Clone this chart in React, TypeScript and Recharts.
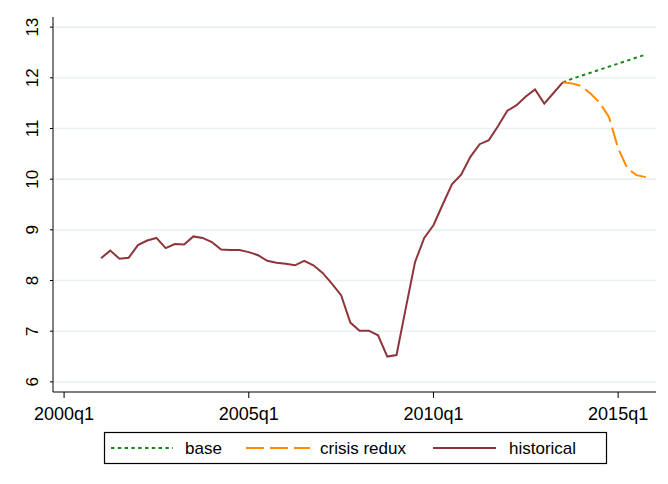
import React from 'react';
import { LineChart, Line, XAxis, YAxis, CartesianGrid } from 'recharts';

const firstHistQuarter = 4; // 2001q1, counted from 2000q1
const historical = [
  8.44, 8.59, 8.43, 8.45, 8.70, 8.79, 8.84, 8.64, 8.72, 8.71,
  8.87, 8.84, 8.76, 8.61, 8.60, 8.60, 8.56, 8.50, 8.39, 8.35,
  8.33, 8.30, 8.39, 8.30, 8.15, 7.94, 7.71, 7.17, 7.01, 7.01,
  6.92, 6.50, 6.53, 7.45, 8.36, 8.84, 9.09, 9.50, 9.90, 10.09,
  10.44, 10.69, 10.77, 11.05, 11.35, 11.46, 11.63, 11.77, 11.49, 11.70,
  11.91,
];
const firstForecastQuarter = 54; // 2013q3
const base = [11.91, 11.98, 12.04, 12.10, 12.16, 12.22, 12.28, 12.34, 12.40, 12.46];
const crisisRedux = [11.91, 11.89, 11.84, 11.69, 11.51, 11.23, 10.61, 10.21, 10.08, 10.04];

const xTickValues = [0, 20, 40, 60];
const xTickLabels = ['2000q1', '2005q1', '2010q1', '2015q1'];
const yTicks = [6, 7, 8, 9, 10, 11, 12, 13];

const seriesNames = { base: 'base', crisis: 'crisis redux', historical: 'historical' };
const colors = { base: '#15891b', crisis: '#ff8c00', historical: '#8e353b' };

type Row = { t: number; historical?: number; base?: number; crisis?: number };
const rowsMap: Record<number, Row> = {};
historical.forEach((v, i) => {
  const t = firstHistQuarter + i;
  rowsMap[t] = { ...(rowsMap[t] || { t }), historical: v };
});
base.forEach((v, i) => {
  const t = firstForecastQuarter + i;
  rowsMap[t] = { ...(rowsMap[t] || { t }), base: v };
});
crisisRedux.forEach((v, i) => {
  const t = firstForecastQuarter + i;
  rowsMap[t] = { ...(rowsMap[t] || { t }), crisis: v };
});
const data: Row[] = Object.values(rowsMap).sort((a, b) => a.t - b.t);

const FONT = '"Liberation Sans", Arial, Helvetica, sans-serif';

const XTick = (props: any) => {
  const { x, y, payload } = props;
  const idx = xTickValues.indexOf(payload.value);
  return (
    <text x={x} y={y + 20} textAnchor="middle" fontFamily={FONT} fontSize={18} fill="#000">
      {xTickLabels[idx]}
    </text>
  );
};

const YTick = (props: any) => {
  const { y, payload } = props;
  const bx = 38.5;
  return (
    <text
      x={bx}
      y={y}
      transform={`rotate(-90, ${bx}, ${y})`}
      textAnchor="middle"
      fontFamily={FONT}
      fontSize={17}
      fill="#000"
    >
      {payload.value}
    </text>
  );
};

const LegendBox = () => {
  const cy = 448;
  return (
    <svg width={668} height={484} style={{ position: 'absolute', left: 0, top: 0, pointerEvents: 'none' }}>
      <rect x={104.5} y={432.5} width={502} height={31} fill="#fff" stroke="#000" strokeWidth={1.2} />
      <line x1={111} x2={173} y1={cy} y2={cy} stroke={colors.base} strokeWidth={2} strokeDasharray="3.4 3.4" />
      <text x={185} y={cy + 6} fontFamily={FONT} fontSize={17} fill="#000">{seriesNames.base}</text>
      <line x1={246} x2={310} y1={cy} y2={cy} stroke={colors.crisis} strokeWidth={2} strokeDasharray="18 6" />
      <text x={320} y={cy + 6} fontFamily={FONT} fontSize={17} fill="#000">{seriesNames.crisis}</text>
      <line x1={433} x2={496} y1={cy} y2={cy} stroke={colors.historical} strokeWidth={2} />
      <text x={509} y={cy + 6} fontFamily={FONT} fontSize={17} fill="#000">{seriesNames.historical}</text>
    </svg>
  );
};

export default function App() {
  return (
    <div style={{ position: 'absolute', left: 0, top: 0, width: 668, height: 484, background: '#fff' }}>
      <LineChart
        width={668}
        height={484}
        data={data}
        margin={{ top: 17, right: 12, bottom: 62, left: 0 }}
      >
        <CartesianGrid
          horizontal
          vertical={false}
          stroke="#e9f1f3"
          strokeWidth={1.6}
          horizontalValues={yTicks}
        />
        <XAxis
          dataKey="t"
          type="number"
          domain={[-1.2, 64.1]}
          ticks={xTickValues}
          tick={<XTick />}
          tickSize={6}
          height={30}
          stroke="#000"
          allowDataOverflow
        />
        <YAxis
          type="number"
          domain={[5.8, 13.2]}
          ticks={yTicks}
          tick={<YTick />}
          tickSize={3}
          width={53}
          stroke="#000"
          allowDataOverflow
        />
        <Line
          dataKey="base"
          stroke={colors.base}
          strokeWidth={2}
          strokeDasharray="3.4 3.4"
          dot={false}
          isAnimationActive={false}
        />
        <Line
          dataKey="crisis"
          stroke={colors.crisis}
          strokeWidth={2}
          strokeDasharray="18 6"
          dot={false}
          isAnimationActive={false}
        />
        <Line
          dataKey="historical"
          stroke={colors.historical}
          strokeWidth={2}
          dot={false}
          isAnimationActive={false}
        />
      </LineChart>
      <LegendBox />
    </div>
  );
}
